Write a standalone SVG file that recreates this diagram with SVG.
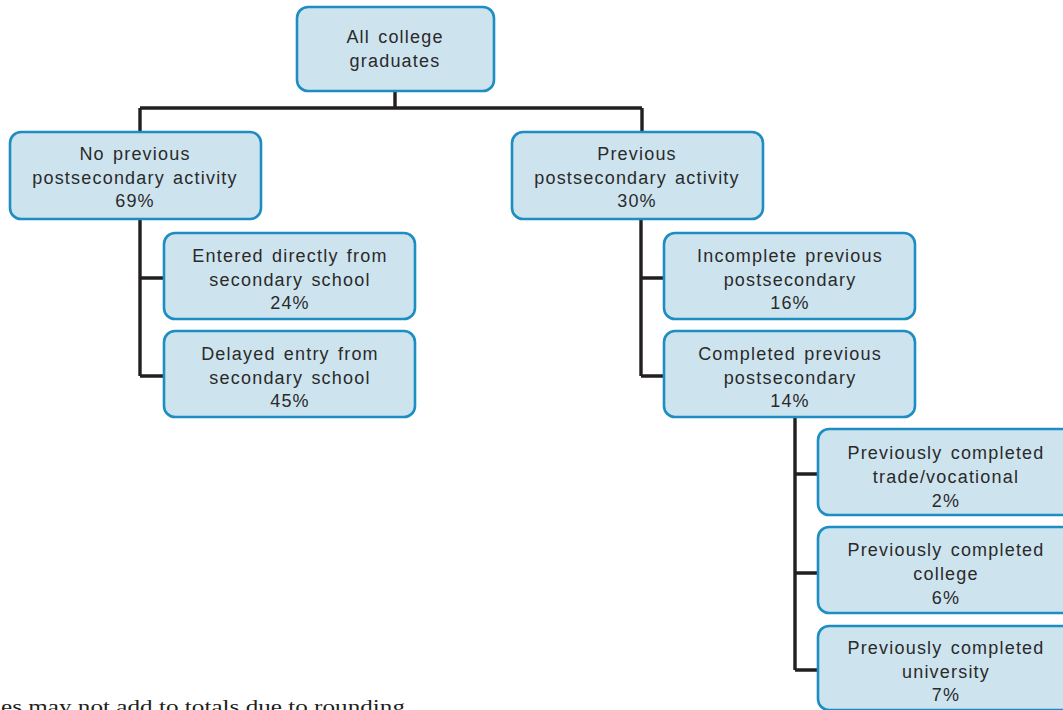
<svg xmlns="http://www.w3.org/2000/svg" width="1063" height="710" viewBox="0 0 1063 710">
<style>
.box{fill:#cde4ef;stroke:#1d8dc2;stroke-width:2.6}
.t{font-family:"Liberation Sans",Arial,sans-serif;font-size:18px;letter-spacing:1.2px;word-spacing:2px;fill:#2a2a2a;text-anchor:middle}
.c{fill:none;stroke:#231f20;stroke-width:3.4}
.note{font-family:"Liberation Serif","Times New Roman",serif;font-size:19px;fill:#231f20}
</style>
<rect width="1063" height="710" fill="#ffffff"/>
<g id="connectors">
<path class="c" d="M395 90V108M140 108H642M140 108V132M642 108V132"/>
<path class="c" d="M140 219V376M140 278H164M140 376H164"/>
<path class="c" d="M641 219V376M641 278H664M641 376H664"/>
<path class="c" d="M795 417V670M795 474H818M795 573H818M795 670H818"/>
</g>
<g id="root">
<rect class="box" x="297" y="7" width="197" height="84" rx="11"/>
<text class="t" x="395" y="43">All college</text>
<text class="t" x="395" y="67">graduates</text>
</g>
<g id="no-prev">
<rect class="box" x="10" y="132" width="251" height="87" rx="11"/>
<text class="t" x="135" y="160">No previous</text>
<text class="t" x="135" y="184">postsecondary activity</text>
<text class="t" x="135" y="207">69%</text>
</g>
<g id="entered-directly">
<rect class="box" x="164" y="233" width="251" height="86" rx="11"/>
<text class="t" x="290" y="262">Entered directly from</text>
<text class="t" x="290" y="286">secondary school</text>
<text class="t" x="290" y="309">24%</text>
</g>
<g id="delayed-entry">
<rect class="box" x="164" y="331" width="251" height="86" rx="11"/>
<text class="t" x="290" y="360">Delayed entry from</text>
<text class="t" x="290" y="384">secondary school</text>
<text class="t" x="290" y="407">45%</text>
</g>
<g id="prev">
<rect class="box" x="512" y="132" width="251" height="87" rx="11"/>
<text class="t" x="637" y="160">Previous</text>
<text class="t" x="637" y="184">postsecondary activity</text>
<text class="t" x="637" y="207">30%</text>
</g>
<g id="incomplete">
<rect class="box" x="664" y="233" width="251" height="86" rx="11"/>
<text class="t" x="790" y="262">Incomplete previous</text>
<text class="t" x="790" y="286">postsecondary</text>
<text class="t" x="790" y="309">16%</text>
</g>
<g id="completed">
<rect class="box" x="664" y="331" width="251" height="86" rx="11"/>
<text class="t" x="790" y="360">Completed previous</text>
<text class="t" x="790" y="384">postsecondary</text>
<text class="t" x="790" y="407">14%</text>
</g>
<g id="trade">
<rect class="box" x="818" y="429" width="257" height="86" rx="11"/>
<text class="t" x="946" y="459">Previously completed</text>
<text class="t" x="946" y="483">trade/vocational</text>
<text class="t" x="946" y="507">2%</text>
</g>
<g id="college">
<rect class="box" x="818" y="527" width="257" height="86" rx="11"/>
<text class="t" x="946" y="556">Previously completed</text>
<text class="t" x="946" y="580">college</text>
<text class="t" x="946" y="604">6%</text>
</g>
<g id="university">
<rect class="box" x="818" y="626" width="257" height="84" rx="11"/>
<text class="t" x="946" y="654">Previously completed</text>
<text class="t" x="946" y="678">university</text>
<text class="t" x="946" y="701">7%</text>
</g>
<text class="note" x="1" y="713" textLength="404" lengthAdjust="spacingAndGlyphs">es may not add to totals due to rounding</text>
</svg>
